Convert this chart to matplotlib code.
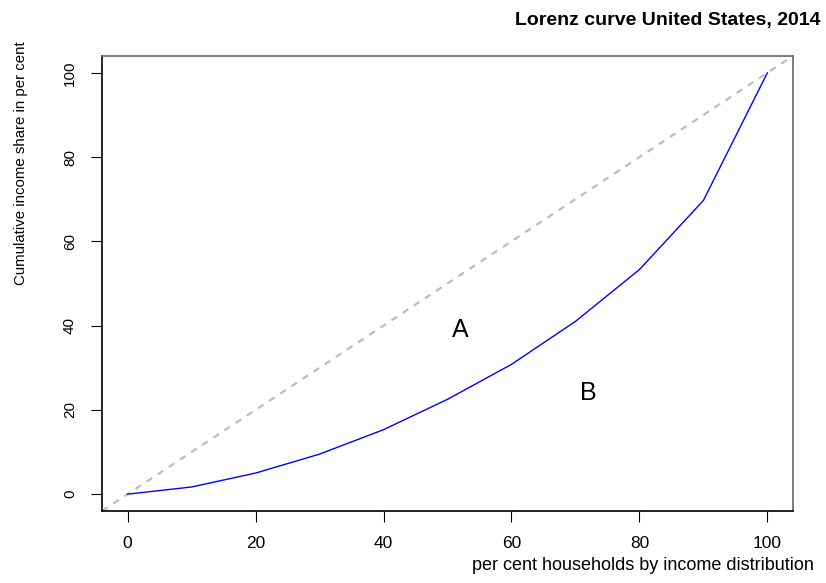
import matplotlib.pyplot as plt

# cumulative shares (per cent) by household deciles
households = [0, 10, 20, 30, 40, 50, 60, 70, 80, 90, 100]
income_share = [0, 1.7, 5.0, 9.5, 15.3, 22.5, 30.8, 41.0, 53.3, 69.7, 100]
x_ticks = [0, 20, 40, 60, 80, 100]
y_ticks = [0, 20, 40, 60, 80, 100]

plt.rcParams['font.family'] = ['Liberation Sans', 'DejaVu Sans']

fig = plt.figure(figsize=(8.26, 5.83), dpi=100)
ax = fig.add_axes([0.1235, 0.1235, 0.8365, 0.7805])

ax.set_xlim(-4, 104)
ax.set_ylim(-4, 104)

# line of equality across the whole plot region
ax.plot([-4, 104], [-4, 104], color='#bdbdbd', linestyle=(0, (3, 3)), linewidth=1.6)
ax.plot(households, income_share, color='blue', linewidth=1)

ax.text(52, 39, 'A', fontsize=18, ha='center', va='center')
ax.text(72, 24, 'B', fontsize=18, ha='center', va='center')

ax.set_xticks(x_ticks)
ax.set_yticks(y_ticks)
ax.tick_params(direction='out', length=8, width=0.8)
ax.tick_params(axis='x', labelsize=12.5, pad=10)
ax.tick_params(axis='y', labelsize=11, pad=10)
for lbl in ax.get_yticklabels():
    lbl.set_rotation(90)
    lbl.set_va('center')

for s in ['left', 'bottom']:
    ax.spines[s].set_color('black')
    ax.spines[s].set_linewidth(1.2)
for s in ['top', 'right']:
    ax.spines[s].set_color('#666666')
    ax.spines[s].set_linewidth(1.2)

fig.text(0.993, 0.965, 'Lorenz curve United States, 2014', ha='right', va='center',
         fontsize=14, fontweight='bold')
fig.text(0.985, 0.015, 'per cent households by income distribution', ha='right',
         va='bottom', fontsize=13)
fig.text(0.026, 0.93, 'Cumulative income share in per cent', rotation=90, ha='center',
         va='top', fontsize=10.8)

fig.savefig('out.png', dpi=100)
